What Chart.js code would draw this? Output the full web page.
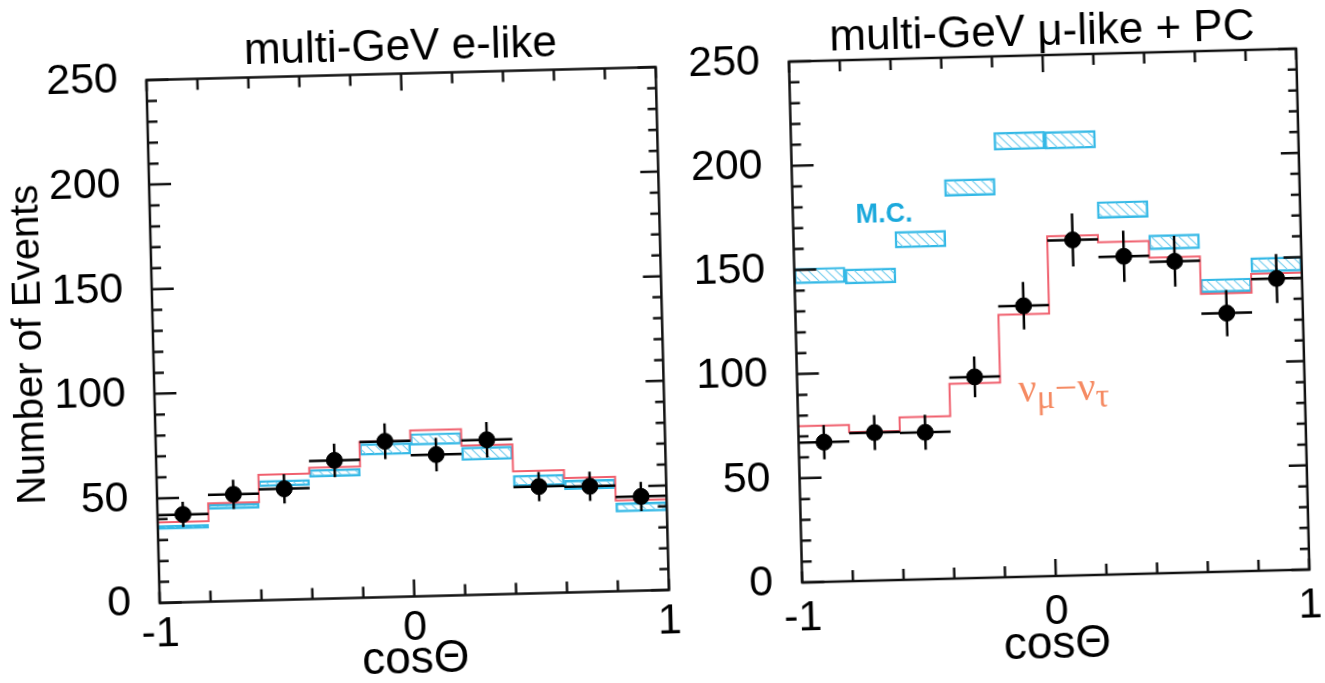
<!DOCTYPE html>
<html>
<head>
<meta charset="utf-8">
<script src="https://cdn.jsdelivr.net/npm/chart.js@4.4.0/dist/chart.umd.min.js"></script>
<style>
  html, body { margin: 0; padding: 0; background: #fff; }
  body { width: 1325px; height: 683px; position: relative; overflow: hidden; }
  .panel { position: absolute; top: 0; transform: rotate(-1.46deg); }
  #left { left: 0; transform-origin: 408.5px 335px; }
  #right { left: 680px; transform-origin: 372px 315.5px; }
</style>
</head>
<body>
<canvas id="left" class="panel" width="680" height="683"></canvas>
<canvas id="right" class="panel" width="645" height="683"></canvas>
<script>
// zenith angle bins
const binCenters = [-0.9, -0.7, -0.5, -0.3, -0.1, 0.1, 0.3, 0.5, 0.7, 0.9];
const binEdges = [-1, -0.8, -0.6, -0.4, -0.2, 0, 0.2, 0.4, 0.6, 0.8, 1];
const halfBin = 0.1;

// multi-GeV e-like
const eData = [42, 51, 53, 66, 74.5, 67.5, 74, 51, 50.5, 45];
const eErr  = [6, 7, 7, 8, 8.5, 8, 8.5, 7, 7, 7];
const eOsc  = [38.5, 47, 60, 62.7, 74.4, 79.3, 71.5, 58.6, 54.7, 43.4];
const eMcLo = [35, 44, 54.3, 58.2, 68, 72.2, 64.4, 51.3, 49.1, 37.8];
const eMcHi = [37, 46.4, 57.2, 61.8, 73.6, 77.8, 70.7, 56.6, 53.6, 42.1];

// multi-GeV mu-like + PC
const muData = [67, 71, 70.5, 96.5, 130, 161, 152.5, 149.5, 124, 140];
const muErr  = [8.2, 8.4, 8.4, 9.8, 11.4, 12.7, 12.3, 12.2, 11.1, 11.8];
const muOsc  = [75, 71.5, 78, 93.5, 126, 163, 159.5, 151.5, 133.5, 142.5];
const muMcLo = [143.3, 142.6, 159.2, 183.5, 205, 204.8, 171, 155.3, 134, 143.3];
const muMcHi = [150.8, 149.8, 167.2, 191.5, 213.5, 213.2, 179, 162.4, 140.6, 150.3];

// axis labels
const yTickLabels = [0, 50, 100, 150, 200, 250];
const xTickLabels = [-1, 0, 1];
const xMajor = [0];

const RED = '#f0606e';
const CYAN = '#35b9e6';

Chart.defaults.font.family = "'Liberation Sans', Arial, Helvetica, sans-serif";
Chart.defaults.color = '#000';

function hatchPattern(ctx) {
  const c = document.createElement('canvas');
  c.width = 9; c.height = 9;
  const g = c.getContext('2d');
  g.strokeStyle = '#74cdee';
  g.lineWidth = 1.2;
  g.beginPath();
  g.moveTo(0, 0); g.lineTo(9, 9);
  g.moveTo(-1, 8); g.lineTo(1, 10);
  g.moveTo(8, -1); g.lineTo(10, 1);
  g.stroke();
  return ctx.createPattern(c, 'repeat');
}

// vertical + horizontal error bars for datasets carrying an `errors` array
const errorBars = {
  id: 'errorBars',
  afterDatasetsDraw(chart) {
    const { ctx, scales: { x, y } } = chart;
    chart.data.datasets.forEach(ds => {
      if (!ds.errors) return;
      ctx.save();
      ctx.strokeStyle = '#000';
      ctx.lineWidth = 2.5;
      ctx.beginPath();
      ds.data.forEach((p, j) => {
        const px = x.getPixelForValue(p.x), py = y.getPixelForValue(p.y);
        ctx.moveTo(x.getPixelForValue(p.x - halfBin), py);
        ctx.lineTo(x.getPixelForValue(p.x + halfBin), py);
        ctx.moveTo(px, y.getPixelForValue(p.y - ds.errors[j]));
        ctx.lineTo(px, y.getPixelForValue(p.y + ds.errors[j]));
      });
      ctx.stroke();
      ctx.restore();
    });
  }
};

// box frame with inward ticks on all four sides
const frameTicks = {
  id: 'frameTicks',
  afterDraw(chart) {
    const { ctx, chartArea: a, scales: { x, y } } = chart;
    ctx.save();
    ctx.strokeStyle = '#111';
    ctx.lineWidth = 2.5;
    ctx.strokeRect(a.left, a.top, a.right - a.left, a.bottom - a.top);
    ctx.beginPath();
    x.ticks.forEach(t => {
      const px = x.getPixelForValue(t.value);
      const len = xMajor.some(m => Math.abs(m - t.value) < 1e-6) ? 17 : 11;
      ctx.moveTo(px, a.bottom); ctx.lineTo(px, a.bottom - len);
      ctx.moveTo(px, a.top); ctx.lineTo(px, a.top + len);
    });
    y.ticks.forEach(t => {
      const py = y.getPixelForValue(t.value);
      const major = yTickLabels.includes(t.value);
      ctx.moveTo(a.left, py); ctx.lineTo(a.left + (major ? 22 : 10), py);
      ctx.moveTo(a.right, py); ctx.lineTo(a.right - (major ? 18 : 9), py);
    });
    ctx.stroke();
    ctx.restore();
  }
};

// in-plot text labels placed in data coordinates
const notes = {
  id: 'notes',
  afterDraw(chart, args, opts) {
    const { ctx, scales: { x, y } } = chart;
    (opts.items || []).forEach(n => {
      ctx.save();
      ctx.fillStyle = n.color;
      ctx.textBaseline = 'alphabetic';
      let total = 0;
      n.parts.forEach(p => { ctx.font = p.font; total += ctx.measureText(p.t).width; });
      let cx = x.getPixelForValue(n.x) - total / 2;
      const cy = y.getPixelForValue(n.y);
      n.parts.forEach(p => {
        ctx.font = p.font;
        ctx.fillText(p.t, cx, cy + (p.dy || 0));
        cx += ctx.measureText(p.t).width;
      });
      ctx.restore();
    });
  }
};

function makePanel(id, o) {
  const ctx = document.getElementById(id).getContext('2d');
  const points = binCenters.map((c, i) => ({ x: c, y: o.data[i] }));
  const steps = binEdges.map((e, i) => ({ x: e, y: o.osc[Math.min(i, o.osc.length - 1)] }));
  const bands = binCenters.map((c, i) => ({ x: c, y: [o.mcLo[i], o.mcHi[i]] }));

  return new Chart(ctx, {
    type: 'bar',
    data: {
      datasets: [
        { type: 'scatter', data: points, errors: o.err, pointRadius: 8, pointHoverRadius: 8,
          backgroundColor: '#000', borderColor: '#000', order: 0 },
        { type: 'line', data: steps, stepped: true, borderColor: RED, borderWidth: 2,
          pointRadius: 0, fill: false, order: 1 },
        { type: 'bar', data: bands, backgroundColor: hatchPattern(ctx), borderColor: CYAN,
          borderWidth: 1.8, borderSkipped: false, barPercentage: 1, categoryPercentage: 1, order: 2 }
      ]
    },
    options: {
      responsive: false,
      animation: false,
      events: [],
      layout: { padding: { left: 0, top: 0, right: o.padRight, bottom: 0 } },
      plugins: {
        legend: { display: false },
        tooltip: { enabled: false },
        title: {
          display: true, text: o.title, fullSize: false, color: '#000',
          font: { size: 44, weight: 'normal', lineHeight: 1 },
          padding: o.titlePad
        },
        notes: { items: o.notes || [] }
      },
      scales: {
        x: {
          type: 'linear', min: -1, max: 1, offset: false,
          grid: { display: false, drawTicks: false, offset: false },
          border: { display: false },
          ticks: {
            stepSize: 0.2, autoSkip: false, maxRotation: 0, padding: o.xTickPad,
            font: { size: 43 }, color: '#000',
            callback: v => xTickLabels.some(t => Math.abs(t - v) < 1e-6) ? String(Math.round(v)) : ''
          },
          title: {
            display: true, text: 'cosΘ', color: '#000',
            font: { size: 46, lineHeight: 0.8 },
            padding: { top: 0, bottom: o.xTitlePad }
          },
          afterFit: s => { s.height = o.xHeight; }
        },
        y: {
          min: 0, max: 250,
          grid: { display: false, drawTicks: false },
          border: { display: false },
          ticks: {
            stepSize: 10, autoSkip: false, padding: o.yTickPad,
            font: { size: 43 }, color: '#000',
            callback: v => yTickLabels.includes(v) ? String(v) : ''
          },
          title: o.yTitle
            ? { display: true, text: o.yTitle, color: '#000', font: { size: 40, lineHeight: 1.2 }, padding: { top: 5.6, bottom: 0 } }
            : { display: false },
          afterFit: s => { s.width = o.yWidth; }
        }
      }
    },
    plugins: [errorBars, frameTicks, notes]
  });
}

makePanel('left', {
  title: 'multi-GeV e-like',
  data: eData, err: eErr, osc: eOsc, mcLo: eMcLo, mcHi: eMcHi,
  yTitle: 'Number of Events',
  yWidth: 153, padRight: 16,
  titlePad: { top: 26, bottom: 3.5 },
  xHeight: 86.5, xTickPad: 5.7, xTitlePad: 4.6, yTickPad: 28.5
});

const greek = "40px 'Liberation Serif', serif";
const greekSub = "34px 'Liberation Serif', serif";
makePanel('right', {
  title: 'multi-GeV μ-like + PC',
  data: muData, err: muErr, osc: muOsc, mcLo: muMcLo, mcHi: muMcHi,
  yWidth: 115.5, padRight: 16.5,
  titlePad: { top: 11, bottom: 0 },
  xHeight: 107, xTickPad: 10.2, xTitlePad: 19.6, yTickPad: 29,
  notes: [
    { x: -0.64, y: 172, color: '#1ba9dc',
      parts: [{ t: 'M.C.', font: "bold 27px 'Liberation Sans', Arial, sans-serif" }] },
    { x: 0.05, y: 84, color: '#f58a62',
      parts: [
        { t: 'ν', font: greek },
        { t: 'μ', font: greekSub, dy: 7 },
        { t: '−', font: greek },
        { t: 'ν', font: greek },
        { t: 'τ', font: greekSub, dy: 7 }
      ] }
  ]
});
</script>
</body>
</html>
